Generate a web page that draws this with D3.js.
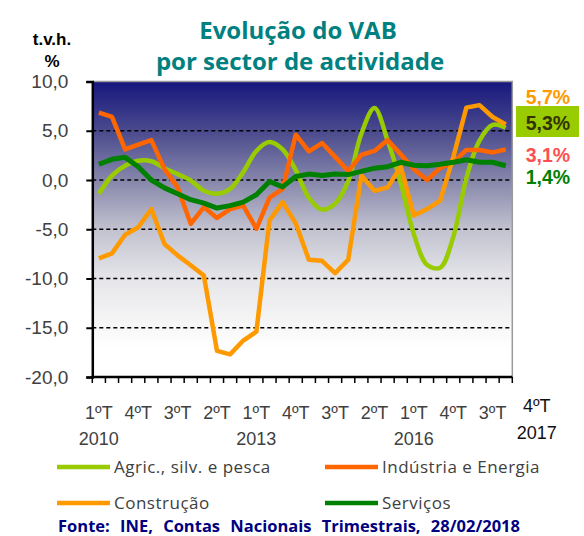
<!DOCTYPE html>
<html>
<head>
<meta charset="utf-8">
<script src="https://cdn.jsdelivr.net/npm/d3@7"></script>
<style>
  body { margin: 0; background: #fff; }
  svg { display: block; }
</style>
</head>
<body>
<div id="chart"></div>
<script>
// quarters 2010-2017 (year only written on the 1st quarter, like the source)
const quarters = [
  "1ºT|2010", "2ºT", "3ºT", "4ºT",
  "1ºT|2011", "2ºT", "3ºT", "4ºT",
  "1ºT|2012", "2ºT", "3ºT", "4ºT",
  "1ºT|2013", "2ºT", "3ºT", "4ºT",
  "1ºT|2014", "2ºT", "3ºT", "4ºT",
  "1ºT|2015", "2ºT", "3ºT", "4ºT",
  "1ºT|2016", "2ºT", "3ºT", "4ºT",
  "1ºT|2017", "2ºT", "3ºT", "4ºT|2017"
];

const agric = [-1.4, 0.45, 1.45, 1.95, 1.9, 1.2, 0.6, -0.05, -1.1, -1.4, -0.9, 0.8, 2.95, 3.85, 3.1, 1.0,
  -1.8, -3.0, -2.4, -0.1, 4.7, 7.3, 4.0, -0.3, -5.5, -8.6, -8.9, -5.8, 0.2, 4.0, 5.6, 5.3];
const industria = [6.85, 6.4, 3.1, 3.6, 4.05, 1.1, -0.75, -4.45, -2.75, -3.85, -2.95, -2.6, -4.95, -1.8, -0.9, 4.6,
  2.9, 3.75, 2.35, 0.9, 2.55, 2.95, 4.05, 2.6, 1.1, 0.0, 1.2, 1.8, 3.05, 3.05, 2.8, 3.1];
const construcao = [-7.95, -7.45, -5.55, -4.8, -2.95, -6.5, -7.65, -8.65, -9.7, -17.35, -17.7, -16.3, -15.4, -4.1, -2.25, -4.4,
  -8.1, -8.2, -9.45, -8.1, 0.45, -1.1, -0.75, 1.35, -3.6, -2.95, -2.1, 2.3, 7.35, 7.6, 6.4, 5.65];
const servicos = [1.6, 2.1, 2.3, 1.35, 0.0, -0.8, -1.4, -2.0, -2.35, -2.85, -2.6, -2.25, -1.5, -0.15, -0.7, 0.35,
  0.6, 0.45, 0.6, 0.55, 0.87, 1.2, 1.35, 1.8, 1.5, 1.45, 1.6, 1.8, 2.05, 1.8, 1.8, 1.45];

const seriesNames = ["Agric., silv. e pesca", "Indústria e Energia", "Construção", "Serviços"];
const seriesColors = ["#99cc00", "#ff6600", "#ff9900", "#008000"];
const yTicks = [-20, -15, -10, -5, 0, 5, 10];
const gridTicks = [-15, -10, -5, 0, 5];

// last-quarter values written at the right of the plot
const endLabels = ["5,7%", "5,3%", "3,1%", "1,4%"];
const endColors = ["#ff9900", "#333300", "#ff5050", "#008000"];

const W = 584, H = 536;
const pLeft = 92.3, pRight = 512.3, pTop = 81.5, pBottom = 377;

const svg = d3.select("#chart").append("svg")
  .attr("width", W).attr("height", H)
  .style("font-family", "'Liberation Sans', Arial, sans-serif");

const x = d3.scaleBand().domain(d3.range(quarters.length)).range([pLeft, pRight]);
const y = d3.scaleLinear().domain([-20, 10]).range([pBottom, pTop]);
const cx = i => x(i) + x.bandwidth() / 2;

const fmt = d3.formatLocale({decimal: ",", thousands: ".", grouping: [3], currency: ["", "€"], minus: "-"}).format(".1f");

// background gradient
const grad = svg.append("defs").append("linearGradient")
  .attr("id", "bg").attr("gradientUnits", "userSpaceOnUse")
  .attr("x1", 0).attr("x2", 0).attr("y1", pTop).attr("y2", pBottom);
[[0, "#17177e"], [0.17, "#4b4b8e"], [0.34, "#8888ac"], [0.5, "#c2c2d0"], [0.67, "#e6e6ea"],
 [0.83, "#f7f7f7"], [0.9, "#ffffff"], [1, "#ffffff"]].forEach(s => {
  grad.append("stop").attr("offset", s[0]).attr("stop-color", s[1]);
});

svg.append("rect")
  .attr("x", pLeft).attr("y", pTop)
  .attr("width", pRight - pLeft).attr("height", pBottom - pTop)
  .attr("fill", "url(#bg)");

// plot frame top/right
svg.append("path")
  .attr("d", `M${pLeft},${pTop}H${pRight}V${pBottom}`)
  .attr("fill", "none").attr("stroke", "#9a9a9a").attr("stroke-width", 1.5);

// dashed gridlines
svg.append("g").selectAll("line").data(gridTicks).join("line")
  .attr("x1", pLeft).attr("x2", pRight)
  .attr("y1", d => y(d)).attr("y2", d => y(d))
  .attr("stroke", "#000").attr("stroke-width", 1.3)
  .attr("stroke-dasharray", "4,3");

// y axis
const yAxis = svg.append("g")
  .attr("transform", `translate(${pLeft},0)`)
  .call(d3.axisLeft(y).tickValues(yTicks).tickFormat(fmt).tickSize(6).tickPadding(18));
yAxis.select(".domain").attr("stroke-width", 2.5);
yAxis.selectAll(".tick line").attr("stroke-width", 2);
yAxis.selectAll("text").attr("font-size", 19).attr("fill", "#404040")
  .attr("font-family", "'Liberation Sans', Arial, sans-serif");

// x axis: ticks on the category boundaries
const edges = d3.range(quarters.length + 1).map(i => pLeft + i * x.step());
const xAxis = svg.append("g");
xAxis.append("line")
  .attr("x1", pLeft - 1).attr("x2", pRight).attr("y1", pBottom).attr("y2", pBottom)
  .attr("stroke", "#000").attr("stroke-width", 2.5);
xAxis.selectAll(".tk").data(edges).join("line").attr("class", "tk")
  .attr("x1", d => d).attr("x2", d => d)
  .attr("y1", pBottom).attr("y2", pBottom + 6)
  .attr("stroke", "#000").attr("stroke-width", 1.5);

// x labels every 3rd quarter
const labelIdx = quarters.map((q, i) => i).filter(i => i % 3 === 0);
const xl = xAxis.selectAll(".xl").data(labelIdx).join("text").attr("class", "xl")
  .attr("text-anchor", "middle").attr("font-size", 18).attr("fill", "#404040");
xl.append("tspan").attr("x", d => cx(d)).attr("y", 419)
  .text(d => quarters[d].split("|")[0]);
xl.append("tspan").attr("x", d => cx(d)).attr("y", 445)
  .text(d => quarters[d].split("|")[1] || "");

// last quarter label, set apart at the right
const lastI = quarters.length - 1;
const ll = svg.append("text").attr("text-anchor", "middle").attr("font-size", 18).attr("fill", "#111");
ll.append("tspan").attr("x", cx(lastI) + 31).attr("y", 412).text(quarters[lastI].split("|")[0]);
ll.append("tspan").attr("x", cx(lastI) + 31).attr("y", 439).text(quarters[lastI].split("|")[1]);

// series lines
const allSeries = [agric, industria, construcao, servicos];
const straight = d3.line().x((d, i) => cx(i)).y(d => y(d));
const smooth = d3.line().x((d, i) => cx(i)).y(d => y(d)).curve(d3.curveCatmullRom.alpha(0.5));

svg.append("g").selectAll("path").data(allSeries).join("path")
  .attr("d", (d, k) => k === 0 ? smooth(d) : straight(d))
  .attr("fill", "none")
  .attr("stroke", (d, k) => seriesColors[k])
  .attr("stroke-width", (d, k) => k === 3 ? 5 : 4.5)
  .attr("stroke-linejoin", "round");

// end value labels
svg.append("rect").attr("x", 516).attr("y", 106).attr("width", 63).attr("height", 31)
  .attr("fill", "#99cc00");
const endY = [104, 130, 162, 184];
svg.append("g").selectAll("text").data(endLabels).join("text")
  .attr("x", 548).attr("y", (d, i) => endY[i])
  .attr("text-anchor", "middle")
  .attr("font-size", 19.5).attr("font-weight", "bold")
  .attr("fill", (d, i) => endColors[i])
  .text(d => d);

// titles
const title = svg.append("text").attr("text-anchor", "middle")
  .attr("font-family", "'Open Sans', sans-serif").attr("font-weight", "bold")
  .attr("font-size", 24).attr("fill", "#008080");
title.append("tspan").attr("x", 298).attr("y", 39).text("Evolução do VAB");
title.append("tspan").attr("x", 300).attr("y", 70).text("por sector de actividade");

const unit = svg.append("text").attr("text-anchor", "middle")
  .attr("font-weight", "bold").attr("font-size", 17).attr("fill", "#000");
unit.append("tspan").attr("x", 52).attr("y", 45).text("t.v.h.");
unit.append("tspan").attr("x", 52).attr("y", 67).text("%");

// legend
const legX = [57, 325], legY = [467, 503];
const leg = svg.append("g").selectAll("g").data(seriesNames).join("g")
  .attr("transform", (d, i) => `translate(${legX[i % 2]},${legY[Math.floor(i / 2)]})`);
leg.append("line").attr("x1", 0).attr("x2", 53).attr("y1", 0).attr("y2", 0)
  .attr("stroke", (d, i) => seriesColors[i]).attr("stroke-width", 4.5);
leg.append("text").attr("x", 57).attr("y", 6)
  .attr("font-family", "'Open Sans', sans-serif")
  .attr("font-size", 17).attr("letter-spacing", 0.5).attr("fill", "#404040")
  .text(d => d);

// source
svg.append("text").attr("x", 289).attr("y", 532).attr("text-anchor", "middle")
  .attr("font-family", "'Open Sans', sans-serif")
  .attr("font-weight", "bold").attr("font-size", 16.5).attr("fill", "#000080")
  .attr("word-spacing", 6)
  .text("Fonte: INE, Contas Nacionais Trimestrais, 28/02/2018");
</script>
</body>
</html>
